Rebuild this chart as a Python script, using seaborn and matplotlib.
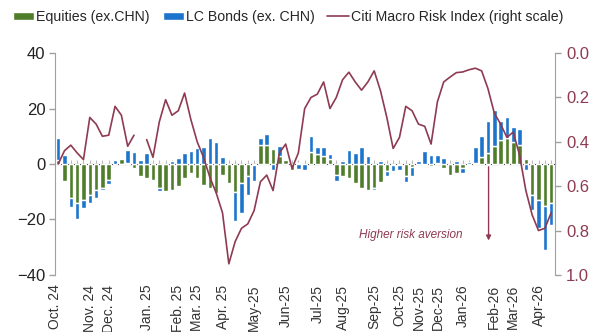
import numpy as np
import matplotlib
matplotlib.use("Agg")
import matplotlib.pyplot as plt
import seaborn as sns

# weekly flows, Oct 2024 - Apr 2026 (USD bn)
equities = [1.5, -6.3, -12.4, -14.2, -13, -11, -9.3, -8.7, -5.7, 0, 1.8, 0.5, -1.5, -4.5, -5, -5.7,
            -8.7, -9.7, -9.2, -8, -5, -3.2, -5, -7.5, -8.5, -10.3, -4, -7, -10, -7, -4.5, -0.5,
            7, 7, 5.5, 3, 1.5, -2.3, 0.3, 0, 4.5, 3.5, 3, 1.7, -3.8, -4.4, -5, -6.8,
            -8.5, -9.5, -8.5, -6.5, -2.5, -0.3, -0.3, -4.4, -1, 0, -0.5, -0.8, 0.3, -1.5, -3.8, -3.2,
            -1.5, -0.5, 0.5, 2.5, 4, 6.5, 8.5, 9.5, 8, 7, 1.7, -11, -13, -15, -14]
bonds = [8, 3.4, -3, -5.5, -3, -3, -3, -0.5, -1.5, 1.6, 0, 4.7, 4.4, 1.6, 4, 0,
         -1, 0, 1, 2.2, 4, 4.7, 5.6, 6.3, 9.5, 8, 2.6, 0, -10.5, -10.5, -6.5, -5.7,
         2.5, 3.8, -2, 3.5, 0, 0, -1.8, -2, 5.5, 2.7, 3, 1.8, -2.2, 1, 5, 4,
         6, 3, -1, 1, -2, -2.3, -2, -2, -3.5, 1, 4.7, 3.3, 2.9, 2.3, 0, 1.2,
         -1.8, 0.6, 5.7, 7.7, 11.6, 13, 7, 7.5, 5.2, 5.6, -2.3, -5.5, -10, -16, -8]
risk_index = [0.50, 0.44, 0.415, 0.45, 0.48, 0.29, 0.32, 0.375, 0.37, 0.24, 0.28, 0.42, 0.37, np.nan,
              0.39, 0.47, 0.31, 0.21, 0.28, 0.26, 0.18, 0.30, 0.40, 0.47, 0.56, 0.63, 0.72, 0.95,
              0.85, 0.79, 0.77, 0.71, 0.58, 0.55, 0.62, 0.45, 0.41, 0.52, 0.45, 0.25, 0.20, 0.185,
              0.13, 0.25, 0.20, 0.12, 0.086, 0.13, 0.167, 0.13, 0.08, 0.17, 0.29, 0.43, 0.38, 0.24,
              0.26, 0.32, 0.33, 0.41, 0.22, 0.13, 0.108, 0.088, 0.085, 0.075, 0.068, 0.08, 0.16,
              0.27, 0.32, 0.38, 0.356, 0.46, 0.62, 0.73, 0.80, 0.79, 0.72]
tick_weeks = [-0.5, 5, 8, 14, 19, 22, 26, 31, 36, 41, 45, 50, 54, 57, 60, 64, 69, 72, 76]
tick_labels = ["Oct. 24", "Nov. 24", "Dec. 24", "Jan. 25", "Feb. 25", "Mar. 25", "Apr. 25",
               "May-25", "Jun-25", "Jul-25", "Aug-25", "Sep-25", "Oct-25", "Nov-25", "Dec-25",
               "Jan-26", "Feb-26", "Mar-26", "Apr-26"]

sns.set_style("white")
plt.rcParams["font.family"] = ["Liberation Sans", "DejaVu Sans"]

green = "#4f7d2b"
blue = "#1c74cc"
maroon = "#8e3a52"
grey = "#a0a0a0"

eq = np.array(equities)
bd = np.array(bonds)
x = np.arange(len(eq))
# stack bonds on equities when they share a sign
bottom = np.where(np.sign(eq) == np.sign(bd), eq, 0)

fig = plt.figure(figsize=(5.98, 3.32), dpi=100)
ax = fig.add_axes([0.092, 0.172, 0.836, 0.668])
ax.bar(x, eq, width=0.72, color=green, label="Equities (ex.CHN)", zorder=2)
ax.bar(x, bd, width=0.72, bottom=bottom, color=blue, label="LC Bonds (ex. CHN)", zorder=2)
ax.set_ylim(-40, 40)
ax.set_xlim(-0.3, len(eq) - 0.4)
ax.set_yticks([-40, -20, 0, 20, 40])
ax.tick_params(axis="y", labelsize=12, colors=grey, labelcolor="#222222", length=4, width=1, pad=3)
ax.set_xticks(tick_weeks)
ax.set_xticklabels(tick_labels, rotation=90, fontsize=10, color="#333333")
ax.tick_params(axis="x", length=0, pad=7)
for s in ["top", "bottom", "right"]:
    ax.spines[s].set_visible(False)
ax.spines["left"].set_color(grey)

# zero axis with weekly ticks
zero = ax.secondary_xaxis(0.5)
zero.set_xticks(x)
zero.set_xticklabels([])
zero.tick_params(length=3, color="#bbbbbb", width=0.8)
zero.spines["bottom"].set_color(grey)

ax2 = ax.twinx()
ax2.plot(x, risk_index, color=maroon, lw=1.2, label="Citi Macro Risk Index (right scale)")
ax2.set_ylim(1, 0)
ax2.set_yticks([0, 0.2, 0.4, 0.6, 0.8, 1.0])
ax2.set_yticklabels(["0.0", "0.2", "0.4", "0.6", "0.8", "1.0"])
ax2.tick_params(axis="y", labelsize=12, colors=grey, labelcolor=maroon, length=4, width=1, pad=4)
for s in ["top", "bottom", "left"]:
    ax2.spines[s].set_visible(False)
ax2.spines["right"].set_color(grey)

ax.text(55.8, -25.5, "Higher risk aversion", style="italic", fontsize=8.5, color=maroon,
        ha="center", va="center")
ax.annotate("", xy=(68.1, -28.6), xytext=(68.1, 0),
            arrowprops=dict(arrowstyle="-|>", color=maroon, lw=1, mutation_scale=7))

h1, l1 = ax.get_legend_handles_labels()
h2, l2 = ax2.get_legend_handles_labels()
fig.legend(h1 + h2, l1 + l2, loc="upper left", bbox_to_anchor=(0.005, 1.0), ncol=3, frameon=False,
           fontsize=10.2, handlelength=1.5, handleheight=0.55, handletextpad=0.15, columnspacing=0.9,
           borderaxespad=0.3)

fig.savefig("out.png", dpi=100)
